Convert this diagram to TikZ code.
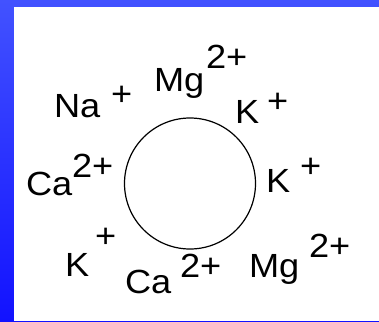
\documentclass[tikz,border=0pt]{standalone}
\usepackage{fontspec}
\setmainfont[FakeStretch=1.08]{Liberation Sans}
\begin{document}
\begin{tikzpicture}[x=1pt,y=-1pt,
  ion/.style={anchor=base west,inner sep=0pt,outer sep=0pt,font=\fontsize{33.5}{40}\selectfont,text=black}]
\useasboundingbox (0,0) rectangle (379,321);
\shade[top color={rgb,255:red,66;green,82;blue,255},bottom color={rgb,255:red,18;green,18;blue,255}] (0,0) rectangle (379,321);
\fill[white] (14,7) rectangle (379,321);
\node[draw=black,line width=1.2pt,circle,minimum size=131pt,inner sep=0pt] (cell) at (190,183.5) {};
% Na+
\node[ion] (na) at (54,117) {Na};
\node[ion] (nac) at (111,105.5) {+};
% Mg2+ top
\node[ion] (mg1) at (154,91) {Mg};
\node[ion] (mg1c) at (206,68) {2+};
% K+ top right
\node[ion] (k1) at (235,123) {K};
\node[ion] (k1c) at (267,112.5) {+};
% Ca2+ left
\node[ion] (ca1) at (26,195) {Ca};
\node[ion] (ca1c) at (72,177) {2+};
% K+ right
\node[ion] (k2) at (266,192) {K};
\node[ion] (k2c) at (300,177) {+};
% K+ lower left
\node[ion] (k3) at (65,276) {K};
\node[ion] (k3c) at (95,247.5) {+};
% Ca2+ bottom
\node[ion] (ca2) at (125,293) {Ca};
\node[ion] (ca2c) at (180,277) {2+};
% Mg2+ lower right
\node[ion] (mg2) at (249,277) {Mg};
\node[ion] (mg2c) at (309,257) {2+};
\end{tikzpicture}
\end{document}
